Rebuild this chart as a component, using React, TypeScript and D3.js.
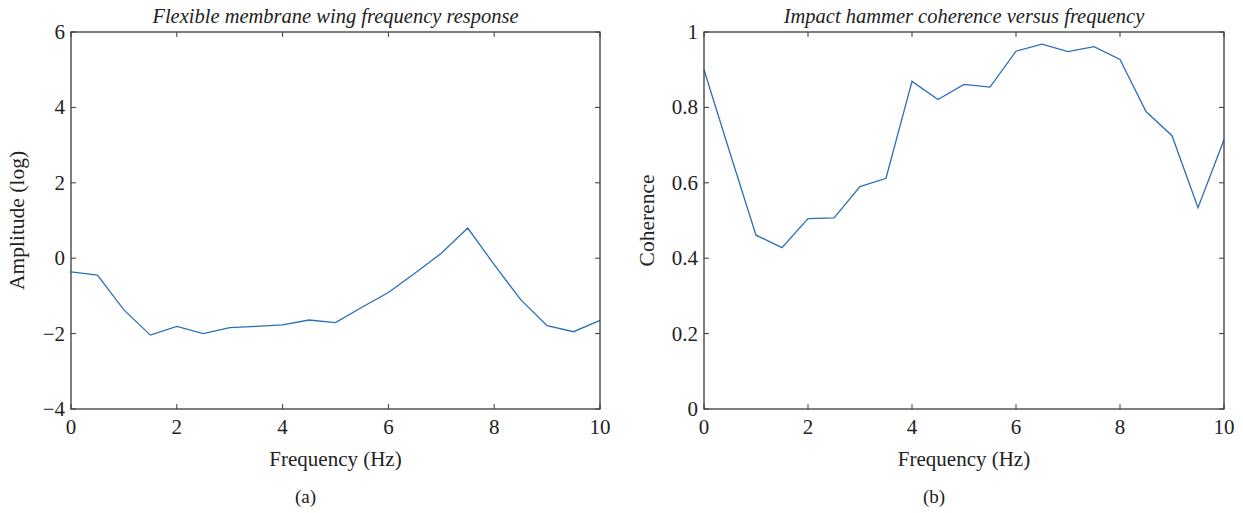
import React from "react";
import * as d3 from "d3";

const freq = [0, 0.5, 1, 1.5, 2, 2.5, 3, 3.5, 4, 4.5, 5, 5.5, 6, 6.5, 7, 7.5, 8, 8.5, 9, 9.5, 10];
const amplitude = [-0.36, -0.45, -1.37, -2.04, -1.81, -2.0, -1.84, -1.81, -1.77, -1.64, -1.71, -1.3, -0.91, -0.4, 0.13, 0.8, -0.17, -1.1, -1.79, -1.95, -1.65];
const coherence = [0.9, 0.679, 0.461, 0.428, 0.505, 0.507, 0.59, 0.612, 0.869, 0.821, 0.861, 0.854, 0.949, 0.968, 0.948, 0.961, 0.927, 0.789, 0.725, 0.534, 0.714];
const xTicks = [0, 2, 4, 6, 8, 10];
const ampTicks = [-4, -2, 0, 2, 4, 6];
const cohTicks = [0, 0.2, 0.4, 0.6, 0.8, 1];

const FONT = "'Liberation Serif', 'DejaVu Serif', serif";
const AXIS = "#3a3a3a";
const LINE = "#2a6fb8";

type PanelProps = {
  x0: number; x1: number; y0: number; y1: number;
  ys: number[]; yDomain: [number, number]; yTicks: number[];
  yFmt: (v: number) => string;
  title: string; yLabel: string; tag: string; yLabelX: number;
};

function Panel(p: PanelProps) {
  const xs = d3.scaleLinear().domain([0, 10]).range([p.x0, p.x1]);
  const ysc = d3.scaleLinear().domain(p.yDomain).range([p.y1, p.y0]);
  const line = d3.line<number>().x((_, i) => xs(freq[i])).y((d) => ysc(d));
  const tl = 5;
  const cx = (p.x0 + p.x1) / 2;
  return (
    <g>
      <text x={cx} y={23} textAnchor="middle" fontFamily={FONT} fontStyle="italic" fontSize={20.5} fill="#222">{p.title}</text>
      <path d={line(p.ys) || ""} fill="none" stroke={LINE} strokeWidth={1.3} />
      <rect x={p.x0} y={p.y0} width={p.x1 - p.x0} height={p.y1 - p.y0} fill="none" stroke={AXIS} strokeWidth={1.3} />
      {xTicks.map((t) => (
        <g key={"x" + t}>
          <line x1={xs(t)} x2={xs(t)} y1={p.y1} y2={p.y1 - tl} stroke={AXIS} strokeWidth={1} />
          <line x1={xs(t)} x2={xs(t)} y1={p.y0} y2={p.y0 + tl} stroke={AXIS} strokeWidth={1} />
          <text x={xs(t)} y={p.y1 + 25} textAnchor="middle" fontFamily={FONT} fontSize={21} fill="#222">{t}</text>
        </g>
      ))}
      {p.yTicks.map((t) => (
        <g key={"y" + t}>
          <line x1={p.x0} x2={p.x0 + tl} y1={ysc(t)} y2={ysc(t)} stroke={AXIS} strokeWidth={1} />
          <line x1={p.x1} x2={p.x1 - tl} y1={ysc(t)} y2={ysc(t)} stroke={AXIS} strokeWidth={1} />
          <text x={p.x0 - 6} y={ysc(t) + 7} textAnchor="end" fontFamily={FONT} fontSize={21} fill="#222">{p.yFmt(t)}</text>
        </g>
      ))}
      <text x={cx} y={466} textAnchor="middle" fontFamily={FONT} fontSize={21} fill="#222">{"Frequency (Hz)"}</text>
      <text x={cx - 30} y={503} textAnchor="middle" fontFamily={FONT} fontSize={19} fill="#222">{p.tag}</text>
      <text transform={`translate(${p.yLabelX},${(p.y0 + p.y1) / 2}) rotate(-90)`} textAnchor="middle" fontFamily={FONT} fontSize={21.5} fill="#222">{p.yLabel}</text>
    </g>
  );
}

export default function App() {
  const fmtAmp = (v: number) => (v < 0 ? "\u2212" + Math.abs(v) : String(v));
  const fmtCoh = (v: number) => String(v);
  return (
    <svg width={1243} height={513} style={{ position: "absolute", left: 0, top: 0, background: "#fff" }}>
      <Panel x0={71} x1={600} y0={32} y1={409} ys={amplitude} yDomain={[-4, 6]} yTicks={ampTicks} yFmt={fmtAmp}
        title="Flexible membrane wing frequency response" yLabel="Amplitude (log)" tag="(a)" yLabelX={24} />
      <Panel x0={704} x1={1224} y0={32} y1={409} ys={coherence} yDomain={[0, 1]} yTicks={cohTicks} yFmt={fmtCoh}
        title="Impact hammer coherence versus frequency" yLabel="Coherence" tag="(b)" yLabelX={654} />
    </svg>
  );
}
